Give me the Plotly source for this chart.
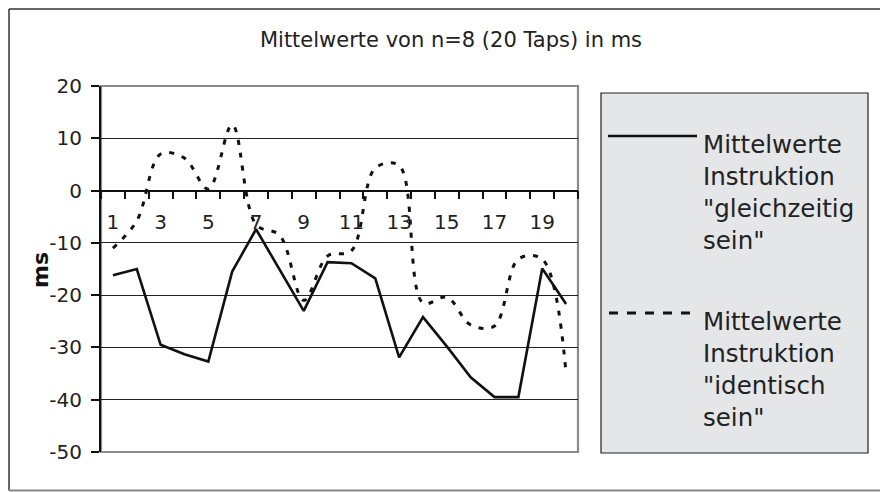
import plotly.graph_objects as go

# ---------------- data ----------------
categories = list(range(1, 21))
tick_values = [1, 3, 5, 7, 9, 11, 13, 15, 17, 19]
tick_labels = ["1", "3", "5", "7", "9", "11", "13", "15", "17", "19"]
y_ticks = [-50, -40, -30, -20, -10, 0, 10, 20]
y_tick_labels = ["-50", "-40", "-30", "-20", "-10", "0", "10", "20"]

series_names = [
    'Mittelwerte<br>Instruktion<br>"gleichzeitig<br>sein"',
    'Mittelwerte<br>Instruktion<br>"identisch<br>sein"',
]
gleichzeitig = [-16.2, -15.0, -29.5, -31.3, -32.7, -15.5, -7.4, -15.2, -23.0, -13.7,
                -13.9, -16.8, -31.9, -24.2, -29.8, -35.7, -39.5, -39.5, -14.9, -21.7]
identisch = [-11.0, -5.8, 7.0, 6.2, 0.3, 12.6, -6.5, -8.6, -21.0, -12.5,
             -11.5, 4.3, 4.8, -21.5, -20.4, -25.7, -25.9, -13.1, -13.1, -35.0]

title_text = "Mittelwerte von n=8 (20 Taps) in ms"
y_title = "ms"

# ---------------- layout helpers ----------------
# the page body has an 8px margin, so the figure starts at page (8, 8)
OFF = 8
W, H = 888 - OFF, 492 - OFF
# plot area in page pixels: x 101..578, y 86..452
PL, PR, PT, PB = 101, 578, 86, 452
L, T = PL - OFF, PT - OFF
R, B = W - (PR - OFF), H - (PB - OFF)
PW, PH = PR - PL, PB - PT
FONT = "DejaVu Sans"
INK = "#222222"


def px(x):  # page x pixel -> paper
    return (x - PL) / PW


def py(y):  # page y pixel -> paper
    return (PB - y) / PH


ymin, ymax = -50, 20

fig = go.Figure()
fig.add_trace(go.Scatter(
    x=categories, y=gleichzeitig, mode="lines", name=series_names[0],
    line=dict(color="#111111", width=2.6), showlegend=False))
fig.add_trace(go.Scatter(
    x=categories, y=identisch, mode="lines", name=series_names[1],
    line=dict(color="#111111", width=3, dash="5px,8px", shape="spline", smoothing=1),
    showlegend=False))

shapes = []
# outer frame (kept just inside the figure)
shapes.append(dict(type="line", xref="paper", yref="paper", x0=px(9), x1=px(900), y0=py(9), y1=py(9),
                   line=dict(color="#333333", width=1.5)))
shapes.append(dict(type="line", xref="paper", yref="paper", x0=px(9), x1=px(9), y0=py(9), y1=py(490.5),
                   line=dict(color="#333333", width=1.5)))
shapes.append(dict(type="line", xref="paper", yref="paper", x0=px(9), x1=px(900), y0=py(490.5), y1=py(490.5),
                   line=dict(color="#888888", width=2)))
# plot area border (grey)
shapes.append(dict(type="rect", xref="paper", yref="paper", x0=0, x1=1, y0=0, y1=1,
                   layer="between", line=dict(color="#8a8a8a", width=2.2)))
# legend box
shapes.append(dict(type="rect", xref="paper", yref="paper", x0=px(601), x1=px(868), y0=py(453), y1=py(93),
                   fillcolor="#E5E6E8", line=dict(color="#222222", width=1.2), layer="below"))
# legend samples
shapes.append(dict(type="line", xref="paper", yref="paper", x0=px(608), x1=px(697), y0=py(136), y1=py(136),
                   line=dict(color="#111111", width=2.6)))
shapes.append(dict(type="line", xref="paper", yref="paper", x0=px(609), x1=px(692), y0=py(313), y1=py(313),
                   line=dict(color="#111111", width=3, dash="9px,9px")))

annotations = [
    dict(text=series_names[0], xref="paper", yref="paper", x=px(701), y=py(128),
         xanchor="left", yanchor="top", showarrow=False, align="left",
         font=dict(family=FONT, size=24.5, color=INK)),
    dict(text=series_names[1], xref="paper", yref="paper", x=px(701), y=py(305),
         xanchor="left", yanchor="top", showarrow=False, align="left",
         font=dict(family=FONT, size=24.5, color=INK)),
    dict(text="<b>" + y_title + "</b>", xref="paper", yref="paper", x=px(40), y=py(270),
         xanchor="center", yanchor="middle", textangle=-90, showarrow=False,
         font=dict(family=FONT, size=22, color="#111111")),
]

fig.update_layout(
    width=W, height=H,
    margin=dict(l=L, r=R, t=T, b=B, pad=0, autoexpand=False),
    paper_bgcolor="white", plot_bgcolor="white",
    title=dict(text=title_text, x=px(451), xref="paper", xanchor="center",
               y=1 - (40 - OFF) / H, yref="container", yanchor="middle", automargin=False,
               font=dict(family=FONT, size=21, color=INK)),
    shapes=shapes, annotations=annotations,
    showlegend=False,
    xaxis=dict(
        range=[0.5, 20.5], anchor="free", position=(0 - ymin) / (ymax - ymin),
        automargin=False,
        showline=True, linecolor="#111111", linewidth=1.6,
        showgrid=False, zeroline=False,
        tickmode="array", tickvals=tick_values, ticktext=tick_labels,
        ticks="", ticklabelstandoff=14,
        tickfont=dict(family=FONT, size=20, color=INK),
        minor=dict(ticks="outside", tick0=0.5, dtick=1, ticklen=8,
                   tickcolor="#111111", tickwidth=1.5, showgrid=False),
    ),
    yaxis=dict(
        range=[ymin, ymax], tickmode="array", tickvals=y_ticks, ticktext=y_tick_labels,
        automargin=False,
        showline=True, linecolor="#111111", linewidth=2,
        ticks="outside", ticklen=8, tickcolor="#111111", tickwidth=1.5,
        showgrid=True, gridcolor="#222222", gridwidth=1.2, zeroline=False,
        ticklabelstandoff=5,
        tickfont=dict(family=FONT, size=20, color=INK),
    ),
)

fig.write_html("out.html")
